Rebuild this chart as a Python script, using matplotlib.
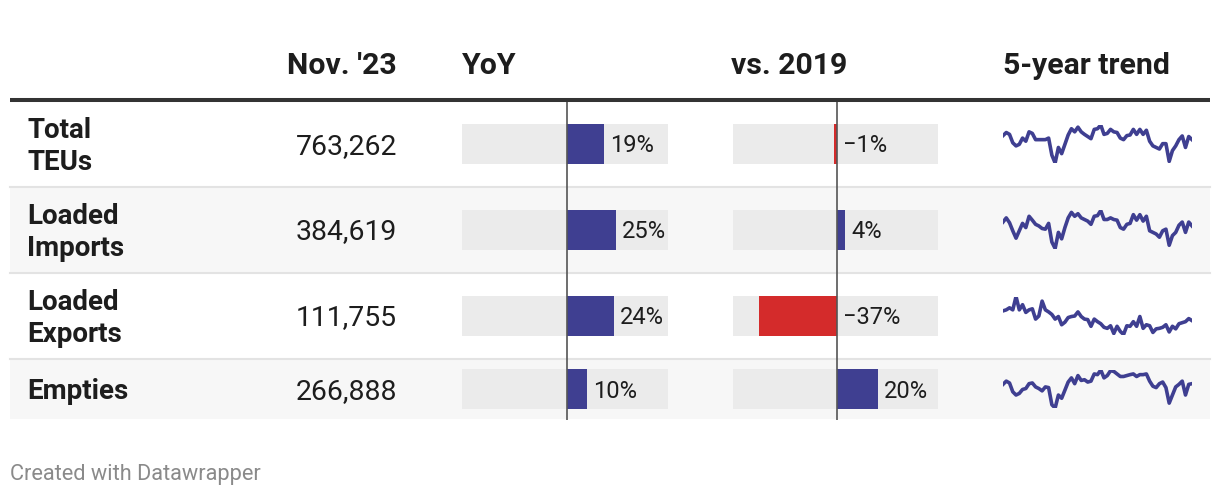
import matplotlib.pyplot as plt

plt.rcParams['font.family'] = ['Roboto', 'DejaVu Sans']

# table data
rows = ["Total\nTEUs", "Loaded\nImports", "Loaded\nExports", "Empties"]
nov23 = ["763,262", "384,619", "111,755", "266,888"]
yoy = [19, 25, 24, 10]
yoy_labels = ["19%", "25%", "24%", "10%"]
vs2019 = [-1.4, 4, -37.4, 19.6]
vs2019_labels = ["\u22121%", "4%", "\u221237%", "20%"]
headers = ["Nov. '23", "YoY", "vs. 2019", "5-year trend"]

# monthly volumes (thousand TEU), Dec 2018 - Nov 2023
trend_total = [817, 859, 834, 721, 679, 700, 784, 742, 868, 847, 763, 763, 763, 763, 784,
               554, 449, 658, 575, 700, 826, 910, 868, 931, 868, 834, 805, 776, 901, 910,
               960, 834, 847, 901, 868, 859, 784, 763, 817, 826, 901, 834, 901, 834, 889,
               742, 679, 658, 637, 709, 709, 470, 616, 679, 763, 813, 658, 805, 763]
trend_imports = [414, 445, 409, 349, 294, 349, 404, 373, 457, 428, 397, 385, 366, 361, 404,
                 265, 217, 337, 289, 373, 445, 486, 457, 476, 445, 433, 421, 397, 457, 462,
                 500, 433, 433, 445, 433, 428, 373, 361, 397, 404, 469, 428, 469, 421, 457,
                 349, 337, 325, 301, 349, 361, 241, 313, 337, 390, 414, 337, 414, 385]
trend_exports = [131, 133, 137, 133, 159, 133, 143, 128, 133, 135, 115, 121, 150, 133, 129,
                 124, 115, 120, 104, 109, 118, 120, 121, 129, 120, 115, 114, 101, 115, 110,
                 106, 99, 97, 102, 87, 101, 91, 85, 102, 101, 110, 101, 120, 97, 104,
                 102, 89, 96, 97, 99, 104, 90, 101, 96, 106, 108, 110, 116, 112]
trend_empties = [264, 278, 270, 232, 218, 225, 242, 246, 267, 270, 253, 246, 236, 253, 250,
                 176, 162, 218, 204, 239, 274, 292, 267, 302, 281, 284, 274, 278, 309, 306,
                 326, 292, 302, 323, 320, 309, 298, 298, 302, 306, 309, 298, 306, 306, 309,
                 278, 256, 250, 267, 274, 250, 183, 218, 253, 264, 278, 218, 264, 267]
trends = [trend_total, trend_imports, trend_exports, trend_empties]

W, H = 1220, 496
row_top = [102, 187, 273, 359]
row_bot = [186, 272, 358, 419]
row_bg = ['white', '#f7f7f7', 'white', '#f7f7f7']
centers = [(a + b) / 2 for a, b in zip(row_top, row_bot)]

blue = '#3f3f91'
red = '#d42b2b'
txt = '#1d1d1d'

fig = plt.figure(figsize=(W / 100, H / 100), dpi=100)
ax = fig.add_axes([0, 0, 1, 1])
ax.set_xlim(0, W)
ax.set_ylim(H, 0)
ax.axis('off')

for top, bot, c in zip(row_top, row_bot, row_bg):
    ax.fill_between([10, 1210], top, bot, color=c, lw=0)
for bot in row_bot[:-1]:
    ax.plot([10, 1210], [bot + 0.5, bot + 0.5], color='#e3e3e3', lw=1.5)
ax.plot([10, 1210], [100, 100], color='#333333', lw=2.9, solid_capstyle='butt')

# headers
hkw = dict(fontsize=21.8, fontweight='bold', color=txt, va='baseline')
ax.text(397, 74, headers[0], ha='right', **hkw)
ax.text(462, 74, headers[1], ha='left', **hkw)
ax.text(731, 74, headers[2], ha='left', **hkw)
ax.text(1003, 74, headers[3], ha='left', **hkw)

# row labels and values
for name, val, cy in zip(rows, nov23, centers):
    lines = name.split('\n')
    if len(lines) == 2:
        ax.text(27, cy - 6, lines[0], fontsize=20, fontweight='bold', color=txt, va='baseline')
        ax.text(27, cy + 26, lines[1], fontsize=20, fontweight='bold', color=txt, va='baseline')
    else:
        ax.text(27, cy + 10, lines[0], fontsize=20, fontweight='bold', color=txt, va='baseline')
    ax.text(397, cy + 10, val, fontsize=20.4, color=txt, ha='right', va='baseline')


def bar_column(x0, x1, lims, values, labels):
    bx = fig.add_axes([x0 / W, 0, (x1 - x0) / W, 1])
    bx.set_xlim(*lims)
    bx.set_ylim(H, 0)
    bx.axis('off')
    span = lims[1] - lims[0]
    bx.barh(centers, [span] * 4, left=lims[0], height=40, color='#ebebeb', lw=0)
    bx.barh(centers, values, left=0, height=40,
            color=[blue if v >= 0 else red for v in values], lw=0)
    bx.vlines(0, 102, 420, color='#555555', lw=1.2)
    for v, lab, cy in zip(values, labels, centers):
        bx.annotate(lab, (max(v, 0), cy + 8.5), xytext=(6, 0), textcoords='offset pixels',
                    fontsize=17, color=txt, ha='left', va='baseline')


bar_column(462, 668, (-53.6, 51.5), yoy, yoy_labels)
bar_column(733, 938, (-50.0, 48.6), vs2019, vs2019_labels)

# sparklines
for series, cy in zip(trends, centers):
    sx = fig.add_axes([1003 / W, 1 - (cy + 19) / H, 189 / W, 38 / H])
    sx.plot(range(len(series)), series, color=blue, lw=2.6, solid_joinstyle='round')
    sx.set_xlim(0, len(series) - 1)
    sx.set_ylim(min(series), max(series))
    sx.axis('off')

ax.text(10, 480, "Created with Datawrapper", fontsize=15.7, color='#8a8a8a', va='baseline')

fig.savefig('out.png', dpi=100)
